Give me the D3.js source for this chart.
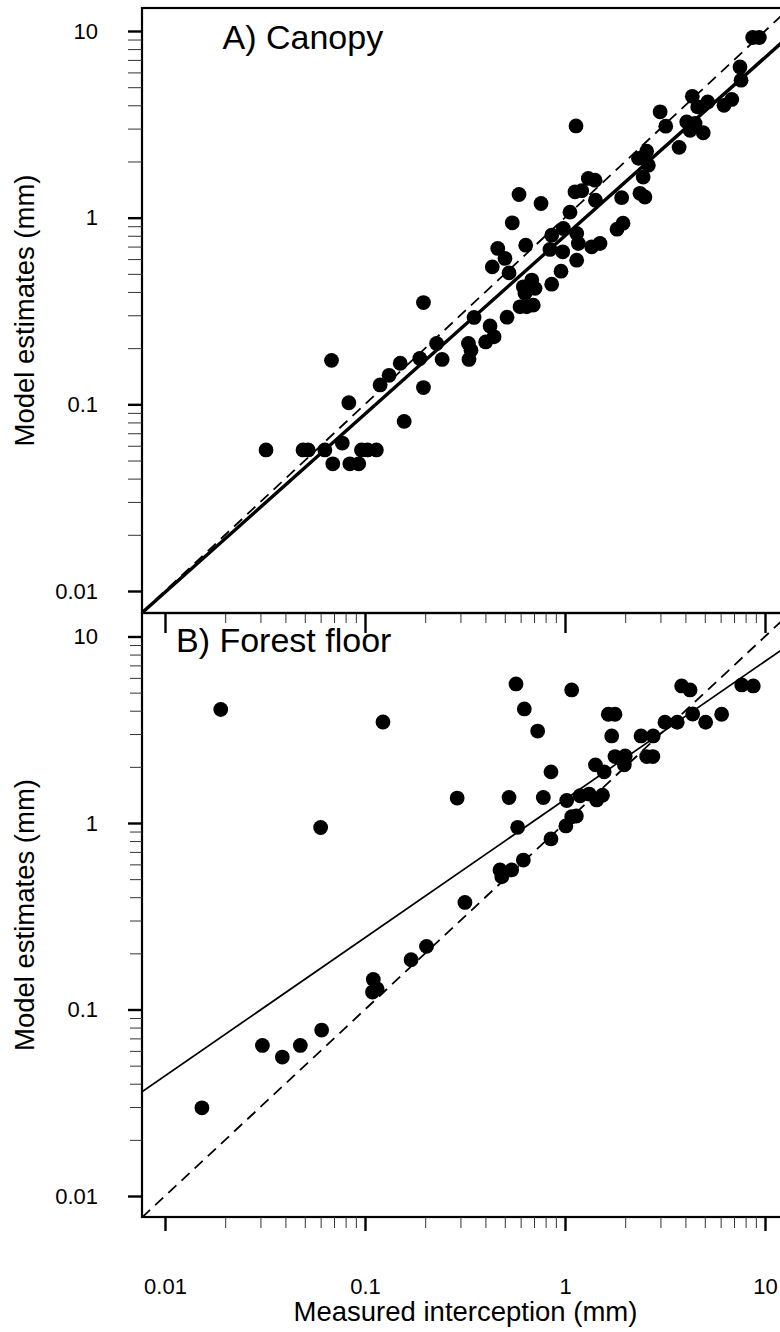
<!DOCTYPE html>
<html>
<head>
<meta charset="utf-8">
<script src="https://cdn.jsdelivr.net/npm/d3@7"></script>
<style>
  html, body { margin: 0; padding: 0; background: #fff; }
  svg { display: block; }
  text { font-family: "Liberation Sans", Arimo, Arial, sans-serif; fill: #000; }
</style>
</head>
<body>
<svg id="chart" width="780" height="1332"></svg>
<script>
// Axis decades, labels and minor multipliers
const decades = [0.01, 0.1, 1, 10];
const tickLabels = ["0.01", "0.1", "1", "10"];
const minorSteps = [2, 3, 4, 5, 6, 7, 8, 9];

// Canopy interception: [measured, model estimate] in mm
const canopyPoints = [
  [0.032, 0.057], [0.049, 0.057], [0.052, 0.057], [0.063, 0.057], [0.077, 0.062],
  [0.069, 0.048], [0.084, 0.048], [0.093, 0.048], [0.096, 0.057], [0.103, 0.057],
  [0.114, 0.057], [0.068, 0.172], [0.083, 0.102], [0.119, 0.127], [0.132, 0.143],
  [0.150, 0.166], [0.157, 0.081], [0.188, 0.176], [0.196, 0.351], [0.196, 0.123],
  [0.228, 0.212], [0.243, 0.174], [0.329, 0.212], [0.339, 0.195], [0.331, 0.174],
  [0.351, 0.292], [0.422, 0.263], [0.442, 0.230], [0.401, 0.216], [0.513, 0.293],
  [0.596, 0.333], [0.643, 0.333], [0.694, 0.340], [0.619, 0.426], [0.682, 0.463],
  [0.708, 0.418], [0.631, 0.393], [0.858, 0.440], [0.955, 0.517], [1.144, 0.592],
  [0.974, 0.656], [0.841, 0.676], [1.059, 1.070], [0.858, 0.806], [0.981, 0.875],
  [1.144, 0.823], [1.166, 0.727], [1.360, 0.698], [1.496, 0.727], [1.820, 0.868],
  [1.950, 0.934], [1.420, 1.241], [1.122, 1.375], [1.212, 1.395], [1.308, 1.622],
  [1.413, 1.588], [0.589, 1.331], [0.759, 1.191], [0.545, 0.938], [0.636, 0.712],
  [0.461, 0.684], [0.501, 0.605], [0.433, 0.545], [0.525, 0.506], [8.68, 9.23],
  [9.37, 9.23], [7.50, 6.42], [7.59, 5.45], [6.82, 4.30], [6.24, 4.00],
  [4.33, 4.47], [5.17, 4.17], [4.61, 3.92], [2.99, 3.69], [3.19, 3.09],
  [4.06, 3.26], [4.47, 3.20], [4.22, 2.94], [4.91, 2.85], [3.72, 2.38],
  [1.135, 3.10], [2.56, 2.27], [2.33, 2.08], [2.61, 1.91], [2.46, 1.65],
  [1.92, 1.28], [2.37, 1.35], [2.51, 1.29]
];

// Forest floor interception: [measured, model estimate] in mm
const floorPoints = [
  [0.019, 4.06], [0.123, 3.48], [0.289, 1.36], [0.060, 0.946], [0.316, 0.375],
  [0.0153, 0.0297], [0.0307, 0.0642], [0.0386, 0.0556], [0.0475, 0.0642], [0.0607, 0.0776],
  [0.110, 0.145], [0.109, 0.124], [0.115, 0.129], [0.170, 0.185], [0.203, 0.218],
  [0.569, 5.57], [1.080, 5.17], [0.626, 4.09], [0.730, 3.11], [1.646, 3.83],
  [1.778, 3.83], [1.712, 2.93], [3.83, 5.43], [4.22, 5.17], [7.65, 5.50],
  [8.74, 5.43], [4.35, 3.84], [6.07, 3.83], [5.05, 3.47], [3.16, 3.47],
  [3.64, 3.47], [2.40, 2.93], [2.76, 2.93], [1.778, 2.27], [2.00, 2.29],
  [1.98, 2.05], [2.56, 2.27], [2.75, 2.27], [1.42, 2.05], [1.57, 1.88],
  [0.851, 1.88], [0.525, 1.37], [0.779, 1.37], [1.02, 1.32], [1.19, 1.40],
  [1.32, 1.43], [1.44, 1.33], [1.54, 1.41], [0.580, 0.948], [0.851, 0.821],
  [1.01, 0.964], [1.14, 1.09], [1.08, 1.08], [0.473, 0.560], [0.541, 0.560],
  [0.619, 0.633], [0.483, 0.515]
];

// Fitted power relations: model = coef * measured ^ power
const canopyFit = { coef: 0.80, power: 0.955 };
const floorFit = { coef: 1.337, power: 0.741 };

const panelTitles = ["A) Canopy", "B) Forest floor"];
const xTitle = "Measured interception (mm)";
const yTitle = "Model estimates (mm)";

const minorValues = decades.slice(0, 3).flatMap(d => minorSteps.map(m => +(d * m).toPrecision(3)));

const svg = d3.select("#chart");
const plotLeft = 142, plotRight = 789;

const x = d3.scaleLog().domain([0.01, 10]).range([165, 765]);
const xLo = x.invert(plotLeft), xHi = x.invert(plotRight);

const panels = [
  {
    id: "canopy", top: 8, bottom: 613,
    y: d3.scaleLog().domain([0.01, 10]).range([591, 31]),
    points: canopyPoints, fit: canopyFit, fitWidth: 3.4,
    title: panelTitles[0], titleX: 222.5, titleY: 48.5,
    xMajorLen: 20, xMinorLen: 10, xLabels: false, yMinorLen: 14
  },
  {
    id: "floor", top: 613, bottom: 1217,
    y: d3.scaleLog().domain([0.01, 10]).range([1196, 636.5]),
    points: floorPoints, fit: floorFit, fitWidth: 1.7,
    title: panelTitles[1], titleX: 176, titleY: 652,
    xMajorLen: 14, xMinorLen: 11, xLabels: true, yMinorLen: 12
  }
];

const defs = svg.append("defs");

panels.forEach(p => {
  const g = svg.append("g").attr("class", "panel-" + p.id);
  const clipId = "clip-" + p.id;
  defs.append("clipPath").attr("id", clipId)
    .append("rect")
    .attr("x", plotLeft).attr("y", p.top)
    .attr("width", plotRight - plotLeft).attr("height", p.bottom - p.top);

  const plot = g.append("g").attr("clip-path", `url(#${clipId})`);
  const line = d3.line().x(d => x(d[0])).y(d => p.y(d[1]));

  // 1:1 reference line
  plot.append("path")
    .datum([[xLo, xLo], [xHi, xHi]])
    .attr("d", line)
    .attr("fill", "none").attr("stroke", "#000")
    .attr("stroke-width", 1.8).attr("stroke-dasharray", "11,7");

  // fitted relation
  const fitLine = [xLo, xHi].map(v => [v, p.fit.coef * Math.pow(v, p.fit.power)]);
  plot.append("path")
    .datum(fitLine)
    .attr("d", line)
    .attr("fill", "none").attr("stroke", "#000")
    .attr("stroke-width", p.fitWidth);

  // observations
  plot.selectAll("circle")
    .data(p.points)
    .join("circle")
    .attr("cx", d => x(d[0]))
    .attr("cy", d => p.y(d[1]))
    .attr("r", 7.4)
    .attr("fill", "#000");

  // frame
  g.append("rect")
    .attr("x", plotLeft).attr("y", p.top)
    .attr("width", plotRight - plotLeft).attr("height", p.bottom - p.top)
    .attr("fill", "none").attr("stroke", "#000").attr("stroke-width", 2.2);

  // y axis: minor ticks
  const yMinor = g.append("g")
    .attr("transform", `translate(${plotLeft},0)`)
    .call(d3.axisLeft(p.y).tickValues(minorValues).tickSize(p.yMinorLen).tickFormat(""));
  yMinor.select(".domain").remove();
  yMinor.selectAll(".tick line").attr("stroke", "#333").attr("stroke-width", 1);

  // y axis: decades with labels
  const yMajor = g.append("g")
    .attr("transform", `translate(${plotLeft},0)`)
    .call(d3.axisLeft(p.y).tickValues(decades).tickSize(14).tickPadding(30)
      .tickFormat((d, i) => tickLabels[i]));
  yMajor.select(".domain").remove();
  yMajor.selectAll(".tick line").attr("stroke", "#000").attr("stroke-width", 2.4);
  yMajor.selectAll(".tick text")
    .attr("font-size", 22).attr("fill", "#000")
    .style("font-family", '"Liberation Sans", Arimo, Arial, sans-serif');

  // x axis along the panel's lower edge
  const xMinor = g.append("g")
    .attr("transform", `translate(0,${p.bottom})`)
    .call(d3.axisBottom(x).tickValues(minorValues).tickSize(p.xMinorLen).tickFormat(""));
  xMinor.select(".domain").remove();
  xMinor.selectAll(".tick line").attr("stroke", "#333").attr("stroke-width", 1);

  const xMajor = g.append("g")
    .attr("transform", `translate(0,${p.bottom})`)
    .call(d3.axisBottom(x).tickValues(decades).tickSize(p.xMajorLen).tickPadding(47)
      .tickFormat((d, i) => p.xLabels ? tickLabels[i] : ""));
  xMajor.select(".domain").remove();
  xMajor.selectAll(".tick line").attr("stroke", "#000").attr("stroke-width", 2.4);
  xMajor.selectAll(".tick text")
    .attr("font-size", 22).attr("fill", "#000")
    .style("font-family", '"Liberation Sans", Arimo, Arial, sans-serif');

  // panel title
  g.append("text")
    .attr("x", p.titleX).attr("y", p.titleY)
    .attr("font-size", 34)
    .text(p.title);

  // y axis title
  g.append("text")
    .attr("transform", `translate(33.5,${(p.top + p.bottom) / 2}) rotate(-90)`)
    .attr("text-anchor", "middle")
    .attr("font-size", 27.5)
    .text(yTitle);
});

// x axis title
svg.append("text")
  .attr("x", (plotLeft + plotRight) / 2).attr("y", 1321)
  .attr("text-anchor", "middle")
  .attr("font-size", 27.5)
  .text(xTitle);
</script>
</body>
</html>
